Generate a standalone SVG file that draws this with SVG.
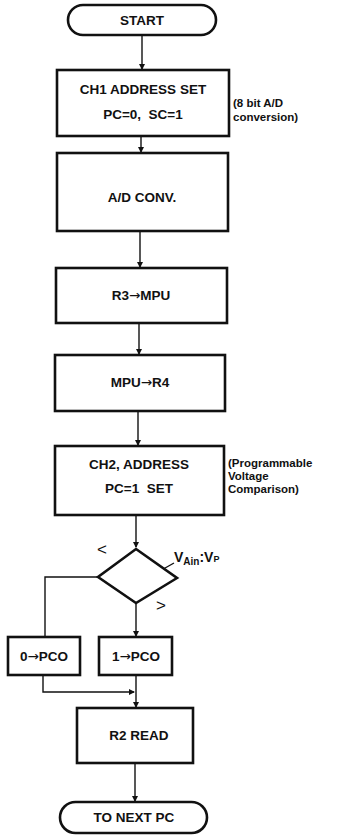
<svg xmlns="http://www.w3.org/2000/svg" width="338" height="835" viewBox="0 0 338 835">
<defs>
<marker id="ah" markerWidth="6" markerHeight="8" refX="5" refY="3" orient="auto" markerUnits="userSpaceOnUse">
<path d="M0,0 L6,3 L0,6 Z" fill="#111"/>
</marker>
<style>
.box{fill:#fff;stroke:#111;stroke-width:2.6}
.ln{fill:none;stroke:#111;stroke-width:1.4}
.t{font-family:"Liberation Sans",Arial,sans-serif;font-weight:bold;font-size:13.5px;fill:#111;text-anchor:middle}
.n{font-family:"Liberation Sans",Arial,sans-serif;font-weight:bold;font-size:11.5px;fill:#111}
.ar{font-family:"DejaVu Sans",sans-serif;font-weight:normal}
</style>
</defs>
<rect width="338" height="835" fill="#fff"/>
<g id="connectors">
<line class="ln" x1="142" y1="35" x2="142" y2="69" marker-end="url(#ah)"/>
<line class="ln" x1="141" y1="136" x2="141" y2="152" marker-end="url(#ah)"/>
<line class="ln" x1="140" y1="231" x2="140" y2="267" marker-end="url(#ah)"/>
<line class="ln" x1="139" y1="323" x2="139" y2="354" marker-end="url(#ah)"/>
<line class="ln" x1="138" y1="411" x2="138" y2="445" marker-end="url(#ah)"/>
<line class="ln" x1="136" y1="515" x2="136" y2="547" marker-end="url(#ah)"/>
<polyline class="ln" points="98,577 45,577 45,637"/>
<line class="ln" x1="136" y1="603" x2="136" y2="636" marker-end="url(#ah)"/>
<polyline class="ln" points="43,675 43,692 134,692" marker-end="url(#ah)"/>
<line class="ln" x1="136" y1="675" x2="136" y2="707" marker-end="url(#ah)"/>
<line class="ln" x1="135" y1="763" x2="135" y2="801" marker-end="url(#ah)"/>
<line class="ln" x1="174" y1="563" x2="149" y2="577" marker-end="url(#ah)"/>
</g>
<g id="start">
<rect class="box" x="68" y="5" width="148" height="30" rx="15"/>
<text class="t" x="142" y="25">START</text>
</g>
<g id="ch1">
<rect class="box" x="57" y="70" width="172" height="66"/>
<text class="t" x="143" y="94">CH1 ADDRESS SET</text>
<text class="t" x="143" y="119" xml:space="preserve">PC=0,  SC=1</text>
<text class="n" x="233" y="107">(8 bit A/D</text>
<text class="n" x="233" y="121">conversion)</text>
</g>
<g id="adconv">
<rect class="box" x="57" y="153" width="171" height="78"/>
<text class="t" x="142" y="202">A/D CONV.</text>
</g>
<g id="r3mpu">
<rect class="box" x="56" y="268" width="171" height="55"/>
<text class="t" x="141" y="300">R3<tspan class="ar">→</tspan>MPU</text>
</g>
<g id="mpur4">
<rect class="box" x="55" y="355" width="170" height="56"/>
<text class="t" x="140" y="387">MPU<tspan class="ar">→</tspan>R4</text>
</g>
<g id="ch2">
<rect class="box" x="55" y="446" width="169" height="69"/>
<text class="t" x="139" y="469">CH2, ADDRESS</text>
<text class="t" x="139" y="493" xml:space="preserve">PC=1  SET</text>
<text class="n" x="228" y="467">(Programmable</text>
<text class="n" x="228" y="480">Voltage</text>
<text class="n" x="228" y="493">Comparison)</text>
</g>
<g id="decision">
<polygon class="box" points="136,549 177,578 136,603 98,577" stroke-width="3"/>
<text class="n" x="97" y="555" style="font-weight:normal;font-size:17px">&lt;</text>
<text class="n" x="156" y="611" style="font-weight:normal;font-size:17px">&gt;</text>
<text class="n" x="174" y="562" style="font-size:14px">V<tspan style="font-size:10px" dy="3">Ain</tspan><tspan dy="-3">:V</tspan><tspan style="font-size:9px">P</tspan></text>
</g>
<g id="pco0">
<rect class="box" x="8" y="637" width="72" height="38"/>
<text class="t" x="44" y="661">0<tspan class="ar">→</tspan>PCO</text>
</g>
<g id="pco1">
<rect class="box" x="99" y="637" width="73" height="38"/>
<text class="t" x="136" y="661">1<tspan class="ar">→</tspan>PCO</text>
</g>
<g id="r2read">
<rect class="box" x="77" y="708" width="116" height="55"/>
<text class="t" x="139" y="740">R2 READ</text>
</g>
<g id="next">
<rect class="box" x="60" y="802" width="147" height="31" rx="15.5"/>
<text class="t" x="134" y="822">TO NEXT PC</text>
</g>
</svg>
